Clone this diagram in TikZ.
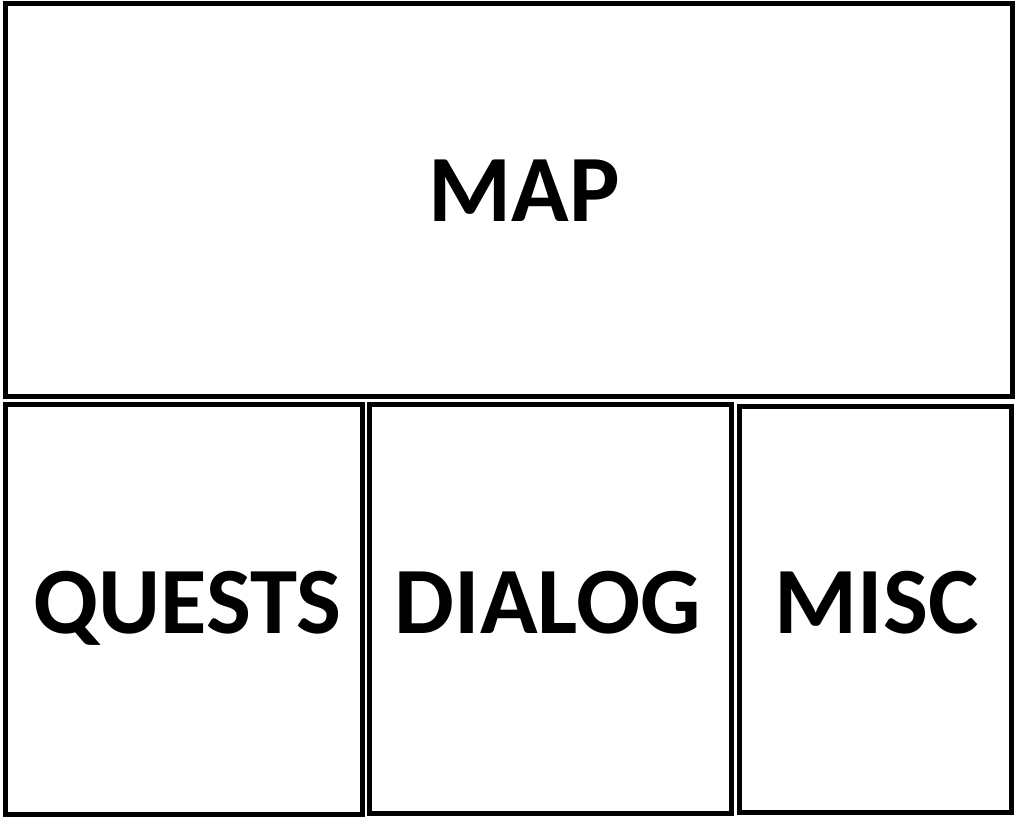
\documentclass[tikz,border=0pt]{standalone}
\usepackage{fontspec}
\setmainfont{Carlito}
\begin{document}
\begin{tikzpicture}[x=1pt,y=-1pt,
  panel/.style={draw=black,line width=5pt,fill=white},
  lbl/.style={font=\fontsize{95}{100}\selectfont\bfseries,anchor=base,inner sep=0pt}]
\useasboundingbox (0,0) rectangle (1026,821);
\fill[white] (0,0) rectangle (1026,821);
\draw[panel] (5.5,3.5) rectangle (1012.5,396.5);
\draw[panel] (5.5,404.5) rectangle (362.5,814.5);
\draw[panel] (369,404.5) rectangle (731,813.5);
\draw[panel] (739,406.5) rectangle (1011.5,812.5);
\node[lbl] (map) at (524,222) {MAP};
\node[lbl] (quests) at (187.5,633) {QUESTS};
\node[lbl] (dialog) at (548,633) {DIALOG};
\node[lbl] (misc) at (876.5,633) {MISC};
\end{tikzpicture}
\end{document}
